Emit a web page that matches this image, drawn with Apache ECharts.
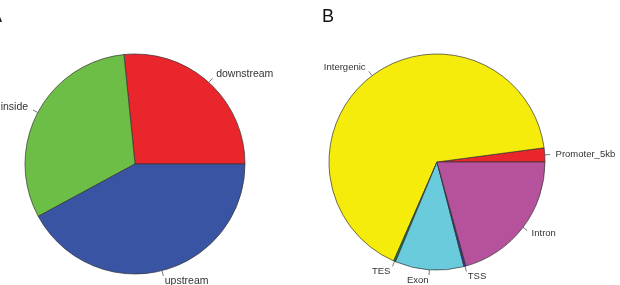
<!DOCTYPE html>
<html>
<head>
<meta charset="utf-8">
<script src="https://cdn.jsdelivr.net/npm/echarts@6/dist/echarts.min.js"></script>
<style>html,body{margin:0;padding:0;background:#fff;}#c{width:620px;height:285px;}</style>
</head>
<body>
<div id="c"></div>
<script>
// Panel A
const catsA = ['downstream', 'inside', 'upstream'];
const valsA = [26.6, 31.3, 42.1];
const colorsA = ['#E8262B', '#6DBE46', '#3A54A4'];
// Panel B
const catsB = ['Promoter_5kb', 'Intergenic', 'TES', 'Exon', 'TSS', 'Intron'];
const valsB = [2.1, 66.4, 0.3, 10.3, 0.3, 20.7];
const colorsB = ['#E8262B', '#F5EC0C', '#0E7A3B', '#6ACBDC', '#2B3990', '#B6529C'];

function pieSeries(cats, vals, colors, center, radius, fontSize) {
  return {
    type: 'pie',
    center: center,
    radius: radius,
    startAngle: 0,
    clockwise: false,
    avoidLabelOverlap: false,
    animation: false,
    silent: true,
    itemStyle: { borderColor: '#333', borderWidth: 0.7 },
    label: {
      show: true,
      position: 'outside',
      formatter: '{b}',
      fontFamily: 'Liberation Sans, Arial, sans-serif',
      fontSize: fontSize,
      color: '#333',
      distanceToLabelLine: 0
    },
    labelLine: {
      show: true,
      length: radius * 0.1,
      length2: 0,
      smooth: false,
      lineStyle: { color: '#555', width: 0.8, type: [radius * 0.05, 100] }
    },
    data: cats.map((c, i) => ({ name: c, value: vals[i], itemStyle: { color: colors[i] } }))
  };
}

const chart = echarts.init(document.getElementById('c'), null, { renderer: 'canvas' });
chart.setOption({
  backgroundColor: '#fff',
  animation: false,
  graphic: [
    { type: 'text', right: 618, top: 8, style: { text: 'A', fontSize: 18, fontFamily: 'Liberation Sans, Arial, sans-serif', fill: '#111' } },
    { type: 'text', left: 322, top: 8, style: { text: 'B', fontSize: 18, fontFamily: 'Liberation Sans, Arial, sans-serif', fill: '#111' } }
  ],
  series: [
    pieSeries(catsA, valsA, colorsA, [135, 164], 110, 10.5),
    pieSeries(catsB, valsB, colorsB, [437, 162], 108, 9.5)
  ]
});
</script>
</body>
</html>
